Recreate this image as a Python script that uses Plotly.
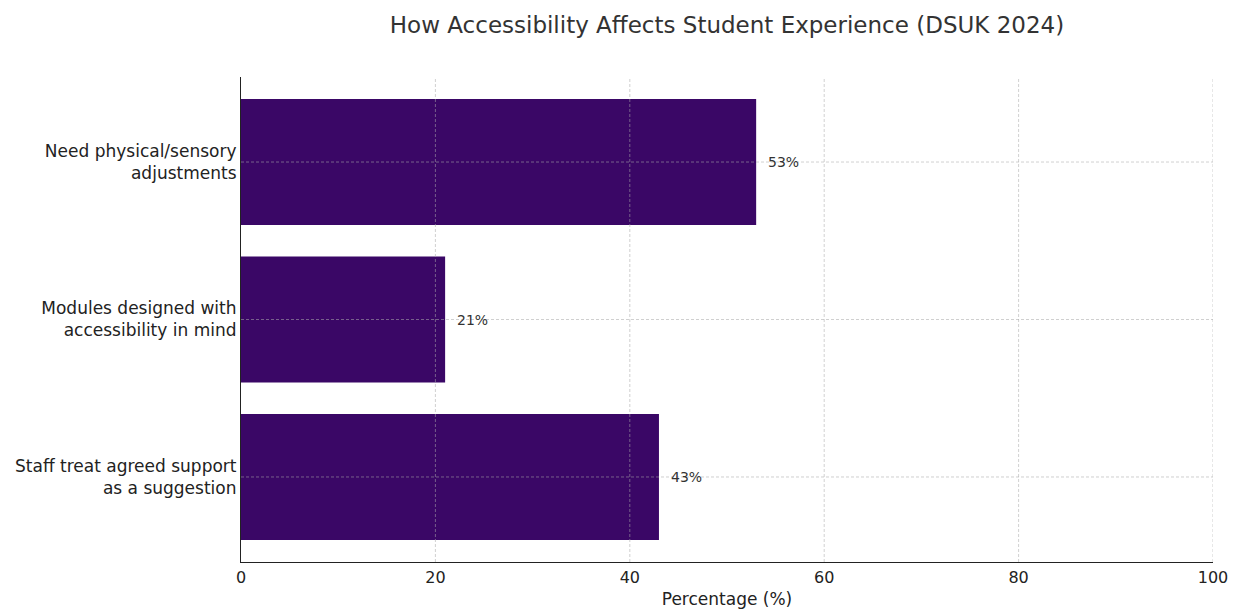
import plotly.graph_objects as go

categories = ["Staff treat agreed support<br>as a suggestion",
              "Modules designed with<br>accessibility in mind",
              "Need physical/sensory<br>adjustments"]
values = [43, 21, 53]
x_ticks = [0, 20, 40, 60, 80, 100]

BAR = "#3a0766"
FONT = "DejaVu Sans"
GRID = "rgba(170,170,170,0.55)"

fig = go.Figure(go.Bar(
    x=values, y=list(range(len(categories))), orientation="h",
    width=0.8, marker=dict(color=BAR, line=dict(width=0)),
    hoverinfo="skip",
))

for i, v in enumerate(values):
    fig.add_annotation(x=v + 1, y=i, text=f"{v}%", xanchor="left", yanchor="middle",
                       showarrow=False, font=dict(family=FONT, size=14, color="#333333"))

# grid lines drawn above bars (as in reference)
for t in x_ticks[1:]:
    fig.add_shape(type="line", xref="x", yref="y domain", x0=t, x1=t, y0=0, y1=1,
                  line=dict(color=GRID, width=1, dash="3px,2px"), layer="above")
for i in range(len(categories)):
    fig.add_shape(type="line", xref="x domain", yref="y", x0=0, x1=1, y0=i, y1=i,
                  line=dict(color=GRID, width=1, dash="3px,2px"), layer="above")

fig.update_layout(
    width=1242, height=611,
    margin=dict(l=241, r=29, t=77, b=49),
    paper_bgcolor="white", plot_bgcolor="white",
    font=dict(family=FONT, color="#222222"),
    title=dict(text="How Accessibility Affects Student Experience (DSUK 2024)",
               x=(241 + 1213) / 2 / 1242, xanchor="center", y=1 - 25 / 611, yanchor="middle",
               font=dict(family=FONT, size=23, color="#333333")),
    showlegend=False,
    bargap=0.2,
)
fig.update_xaxes(
    range=[0, 100], tickvals=x_ticks, ticktext=[str(t) for t in x_ticks],
    showgrid=False,
    showline=True, linecolor="#222222", linewidth=1.2,
    ticks="", ticklabelstandoff=1,
    tickfont=dict(family=FONT, size=16, color="#222222"),
    title=dict(text="Percentage (%)", font=dict(family=FONT, size=17, color="#222222"), standoff=6),
    zeroline=False, automargin=False, layer="above traces",
)
fig.update_yaxes(
    range=[-0.54, 2.54], tickvals=list(range(len(categories))), ticktext=categories,
    showgrid=False,
    showline=True, linecolor="#222222", linewidth=1.2,
    ticks="", ticklabelstandoff=0,
    tickfont=dict(family=FONT, size=17, color="#222222"),
    zeroline=False, automargin=False, layer="above traces",
)

fig.write_html("out.html")
